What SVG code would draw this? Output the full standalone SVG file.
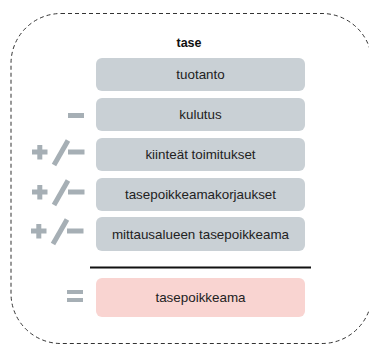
<svg xmlns="http://www.w3.org/2000/svg" width="369" height="345" viewBox="0 0 369 345">
<style>
.box{fill:#c9d0d5}
.res{fill:#f9d4d1}
.sym{fill:#a6afb5}
.lbl{font-family:"Liberation Sans",Arial,sans-serif;font-size:13.4px;fill:#222;text-anchor:middle}
.ttl{font-family:"Liberation Sans",Arial,sans-serif;font-size:12.5px;font-weight:bold;fill:#111;text-anchor:middle}
</style>
<defs>
<g id="pm">
<rect x="0" y="4.5" width="15.5" height="5" class="sym"/>
<rect x="5.3" y="0" width="5" height="14.5" class="sym"/>
<line x1="36" y1="-4.5" x2="22" y2="20" stroke="#a6afb5" stroke-width="5"/>
<rect x="36" y="4.5" width="16.5" height="5" class="sym"/>
</g>
</defs>
<rect x="11" y="13.5" width="361" height="330" rx="50" ry="50" fill="none" stroke="#333" stroke-width="1" stroke-dasharray="4,3"/>
<text class="ttl" x="189" y="47">tase</text>
<g id="tuotanto"><rect class="box" x="96" y="58" width="209" height="33" rx="6"/><text class="lbl" x="200.5" y="79">tuotanto</text></g>
<g id="kulutus"><rect x="68" y="113" width="16" height="5" class="sym"/><rect class="box" x="96" y="98" width="209" height="33" rx="6"/><text class="lbl" x="200.5" y="119">kulutus</text></g>
<g id="kiintea"><use href="#pm" x="32" y="145"/><rect class="box" x="96" y="138" width="209" height="33" rx="6"/><text class="lbl" x="200.5" y="159">kiinteät toimitukset</text></g>
<g id="korjaukset"><use href="#pm" x="32" y="185"/><rect class="box" x="96" y="178" width="209" height="33" rx="6"/><text class="lbl" x="200.5" y="199">tasepoikkeamakorjaukset</text></g>
<g id="mittausalue"><use href="#pm" x="31" y="224"/><rect class="box" x="96" y="217" width="209" height="34" rx="6"/><text class="lbl" x="200.5" y="238.5">mittausalueen tasepoikkeama</text></g>
<g id="connectors"><line x1="90" y1="267.5" x2="311" y2="267.5" stroke="#111" stroke-width="2"/></g>
<g id="tasepoikkeama"><rect x="67" y="290" width="16" height="4" class="sym"/><rect x="67" y="298" width="16" height="4" class="sym"/><rect class="res" x="96" y="278" width="209" height="39" rx="6"/><text class="lbl" x="200.5" y="302">tasepoikkeama</text></g>
</svg>
